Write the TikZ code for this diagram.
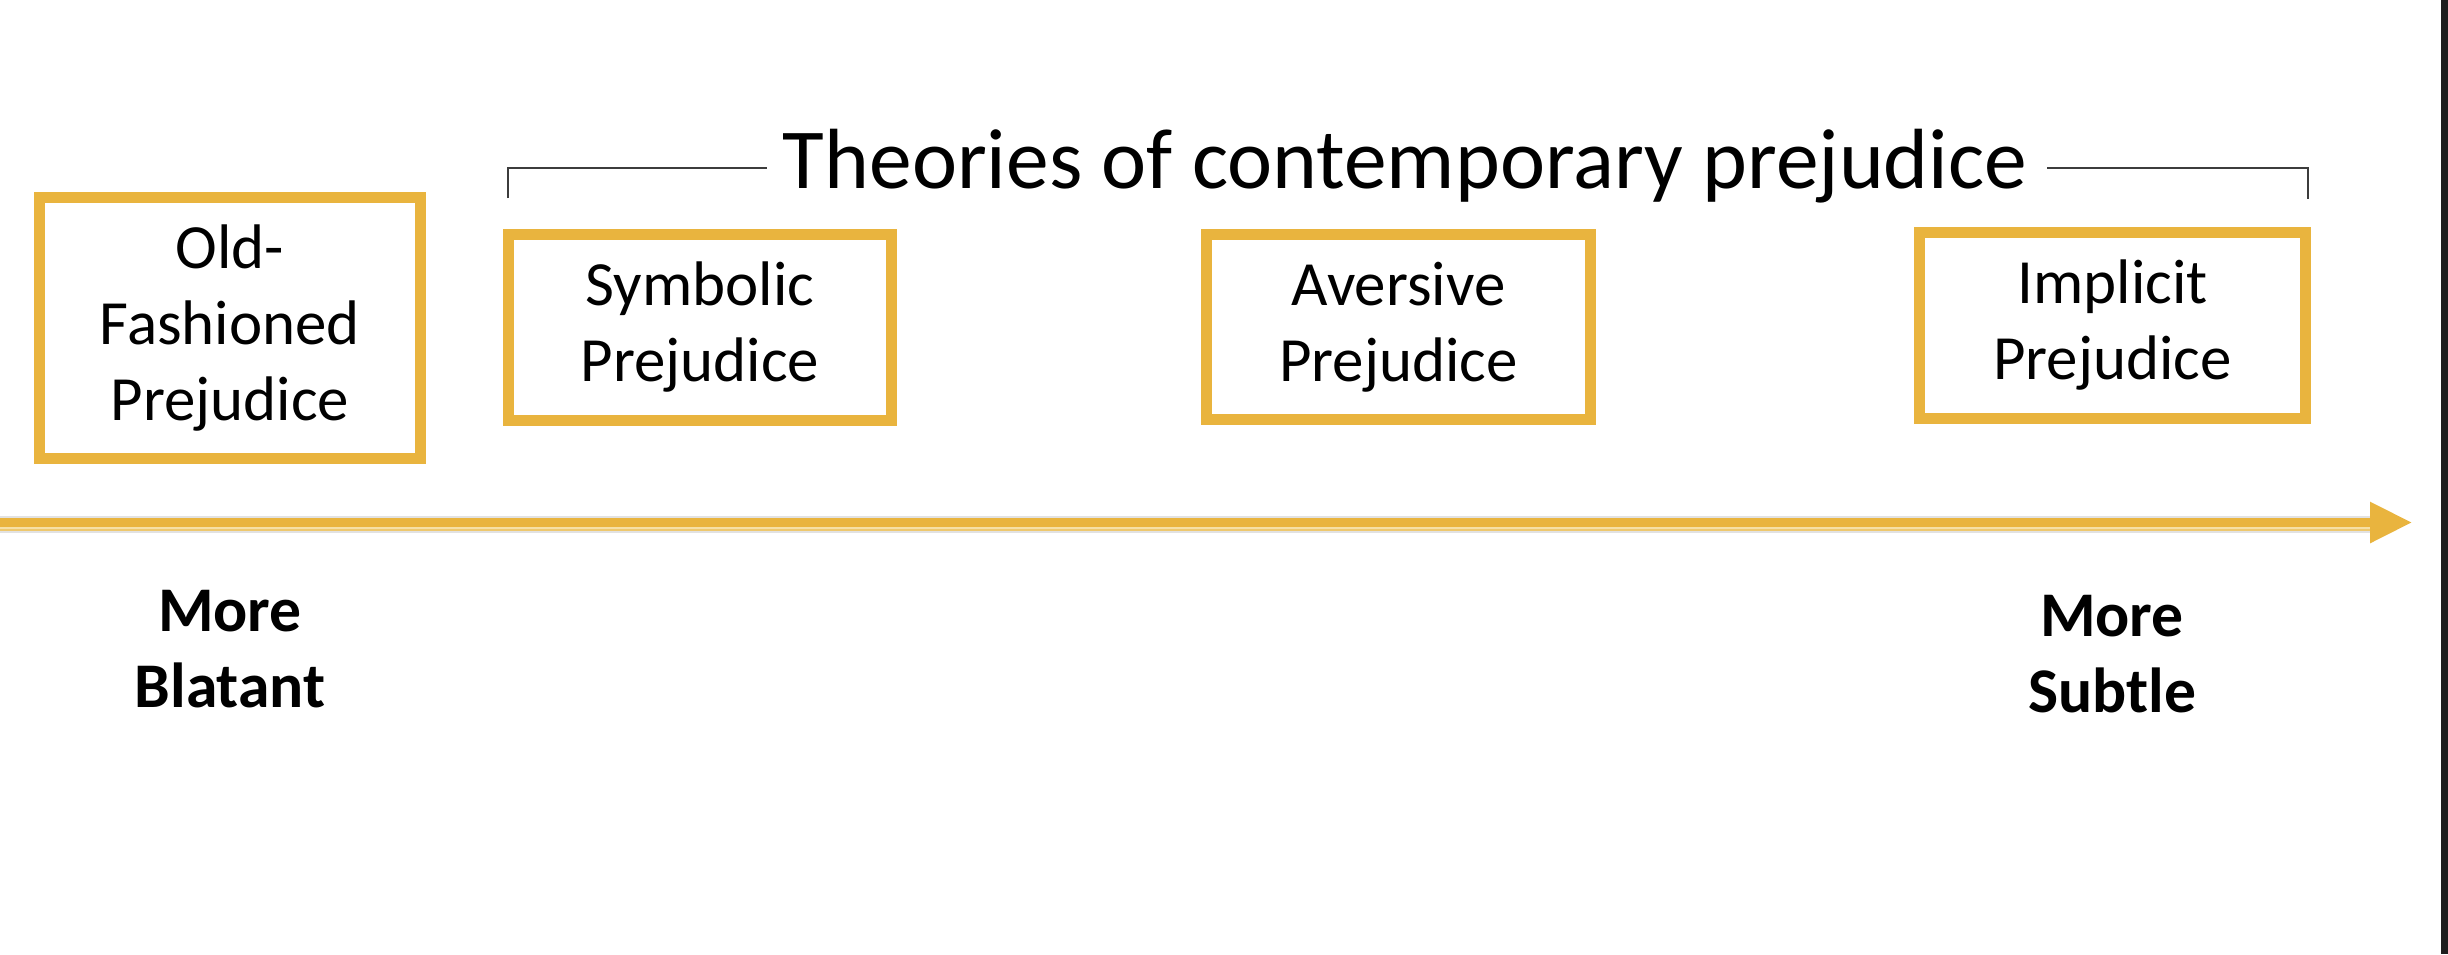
\documentclass[tikz,border=0pt]{standalone}
\usepackage{fontspec}
\setmainfont{Carlito}
\usetikzlibrary{arrows.meta}
\definecolor{gold}{RGB}{233,180,62}
\definecolor{goldlight}{RGB}{246,224,165}
\definecolor{goldpale}{RGB}{238,200,110}
\definecolor{halo}{RGB}{226,226,226}
\definecolor{brk}{RGB}{60,60,60}
\definecolor{frameedge}{RGB}{30,30,30}
\begin{document}
\begin{tikzpicture}[x={(0.01cm,0)}, y={(0,-0.01cm)},
  pbox/.style={draw=gold, line width=0.11cm, inner sep=0pt, align=center,
    font=\fontsize{17.9}{21.6}\selectfont, text=black},
  endlabel/.style={align=center, inner sep=0pt,
    font=\fontsize{18.1}{21.6}\selectfont\bfseries},
  bracketline/.style={draw=brk, line width=0.025cm},
  titlestyle/.style={font=\fontsize{24.3}{29}\selectfont, anchor=base, inner sep=0pt},
]
\useasboundingbox (0,0) rectangle (2448,954);
\fill[white] (0,0) rectangle (2448,954);
\fill[frameedge] (2441,0) rectangle (2448,954);

% boxes
\node[pbox, minimum width=3.81cm, minimum height=2.61cm] (old) at (230,328) {Old-\\Fashioned\\Prejudice};
\node[pbox, minimum width=3.83cm, minimum height=1.85cm] (sym) at (700,327.5) {Symbolic\\Prejudice};
\node[pbox, minimum width=3.83cm, minimum height=1.85cm] (avr) at (1398.5,327) {Aversive\\Prejudice};
\node[pbox, minimum width=3.85cm, minimum height=1.85cm] (imp) at (2112.5,325.5) {Implicit\\Prejudice};

% title and bracket
\node[titlestyle] (title) at (1405,188) {Theories of contemporary prejudice};
\coordinate (bl) at (508,198);
\coordinate (blh) at (767,168);
\coordinate (brh) at (2047,168);
\coordinate (br) at (2308,199);
\draw[bracketline] (bl) |- (blh);
\draw[bracketline] (brh) -| (br);

% axis arrow
\coordinate (astart) at (0,522.5);
\coordinate (atip) at (2412,522.5);
\fill[halo] (0,515.5) rectangle (2372,532.5);
\fill[goldlight] (0,526.5) rectangle (2372,529);
\fill[goldpale] (0,529) rectangle (2372,531);
\draw[gold, line width=0.09cm, -{Triangle[length=0.42cm, width=0.39cm]}] (astart) -- (atip);

% end labels
\node[endlabel] (blat) at (230,649) {More\\Blatant};
\node[endlabel] (subt) at (2112,654) {More\\Subtle};
\end{tikzpicture}
\end{document}
